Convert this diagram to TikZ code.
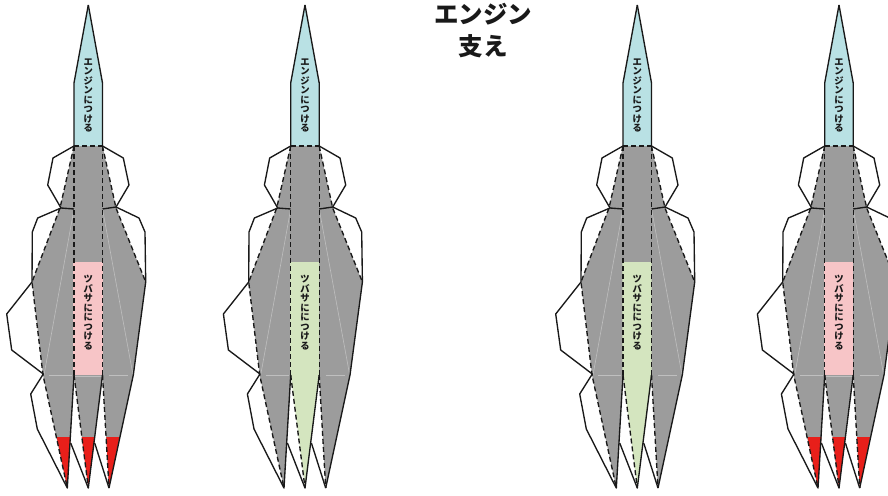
\documentclass[tikz,border=0pt]{standalone}
\usepackage{fontspec}
\newfontfamily\jpfont{Noto Sans CJK JP}
\definecolor{enginecol}{HTML}{B9E1E4}
\definecolor{wingcol}{HTML}{F7C5C7}
\definecolor{tailcol}{HTML}{D4E5BF}
\definecolor{bodycol}{HTML}{9C9C9C}
\definecolor{tipcol}{HTML}{E81F1A}
\tikzset{cut/.style={line width=1.35pt, black!90, line join=round}}
\tikzset{fold/.style={line width=1.35pt, black!90, dash pattern=on 5pt off 3pt}}
\tikzset{crease/.style={line width=0.6pt, white!35!bodycol}}
\tikzset{partlabel/.style={font=\jpfont\bfseries\fontsize{9.3}{9.55}\selectfont, align=center, inner sep=0pt, text=black!90}}
\tikzset{titlelabel/.style={font=\jpfont\bfseries\fontsize{24.5}{24.5}\selectfont, inner sep=0pt, text=black!90}}
\newcommand{\sharedparts}{%
    % nose and upper body
    \fill[enginecol] (88.3, 5) -- (74, 83) -- (74, 146) -- (102.5, 146) -- (102.5, 83) -- cycle;
    \fill[bodycol] (74, 146) -- (60, 208) -- (32, 282) -- (43, 375) -- (67.3, 488) -- (74, 375) -- (102.5, 375) -- (109, 488) -- (133.3, 375) -- (145.7, 282) -- (116, 208) -- (102.5, 146) -- cycle;
}
\newcommand{\outlineparts}{%
    \draw[crease] (74, 209) -- (44, 375);
    \draw[crease] (102.5, 209) -- (133, 375);
    \draw[crease] (49, 375) -- (72, 375);
    \draw[crease] (109, 375) -- (128, 375);
    % flaps
    \draw[cut] (88.3, 5) -- (74, 83) -- (74, 146) -- (53, 158) -- (47.7, 185) -- (61, 208) -- (74, 209);
    \draw[cut] (88.3, 5) -- (102.5, 83) -- (102.5, 146) -- (123.3, 158) -- (129, 185) -- (116, 207) -- (102.5, 209);
    \draw[cut] (61, 208) -- (37.7, 218) -- (32.3, 232) -- (32, 282) -- (6.7, 314) -- (11.7, 350) -- (43.3, 374) -- (30.7, 394) -- (37.3, 429) -- (67.3, 488) -- (74, 375);
    \draw[cut] (116, 207) -- (139, 218) -- (145, 232) -- (145.7, 282) -- (133.3, 375) -- (109, 488);
    \draw[cut] (70.7, 443) -- (88.3, 488) -- (102.5, 375);
    \draw[cut] (94.7, 443) -- (109, 488);
    % folds
    \draw[fold] (74, 146) -- (102.5, 146);
    \draw[fold] (74, 146) -- (74, 375);
    \draw[fold] (102.5, 146) -- (102.5, 375);
    \draw[fold] (74, 146) -- (60, 208) -- (32, 282) -- (43, 375) -- (67.3, 488);
    \draw[fold] (102.5, 146) -- (116, 208) -- (145.7, 282);
    \draw[fold] (74, 375) -- (88.3, 488);
    \draw[fold] (102.5, 375) -- (109, 488);
    \node[partlabel] (engine) at (88.3, 95.5) {エ\\ン\\ジ\\ン\\に\\つ\\け\\る};
    \node[partlabel] (wing) at (88.3, 312.5) {ツ\\バ\\サ\\に\\に\\つ\\け\\る};
}
\begin{document}
\begin{tikzpicture}[x=1pt, y=-1pt]
    \clip (0, 0) rectangle (888, 495);
    \fill[white] (0, 0) rectangle (888, 495);
    \node[titlelabel] (title1) at (483, 14) {エンジン};
    \node[titlelabel] (title2) at (483, 46) {支え};
    % pink wing panels, with red tips
    \foreach \shiftx in {0, 750.7} {
        \begin{scope}[xshift=\shiftx pt]
            \sharedparts
            \fill[bodycol] (74, 375) -- (88.3, 488) -- (102.5, 375) -- cycle;
            \fill[tipcol] (56.7, 437) -- (70.7, 437) -- (67.3, 488) -- cycle;
            \fill[tipcol] (81.7, 437) -- (94.7, 437) -- (88.3, 488) -- cycle;
            \fill[tipcol] (106.3, 437) -- (119.3, 437) -- (109, 488) -- cycle;
            \fill[wingcol] (73.3, 262) rectangle (102.5, 375);
            \draw[crease] (74, 376) -- (102.5, 376);
            \outlineparts
        \end{scope}
    }
    % green tail panels
    \foreach \shiftx in {216.7, 549} {
        \begin{scope}[xshift=\shiftx pt]
            \sharedparts
            \fill[tailcol] (73.3, 262) -- (102.5, 262) -- (102.5, 375) -- (88.3, 488) -- (74, 375) -- (73.3, 375) -- cycle;
            \outlineparts
        \end{scope}
    }
\end{tikzpicture}
\end{document}
